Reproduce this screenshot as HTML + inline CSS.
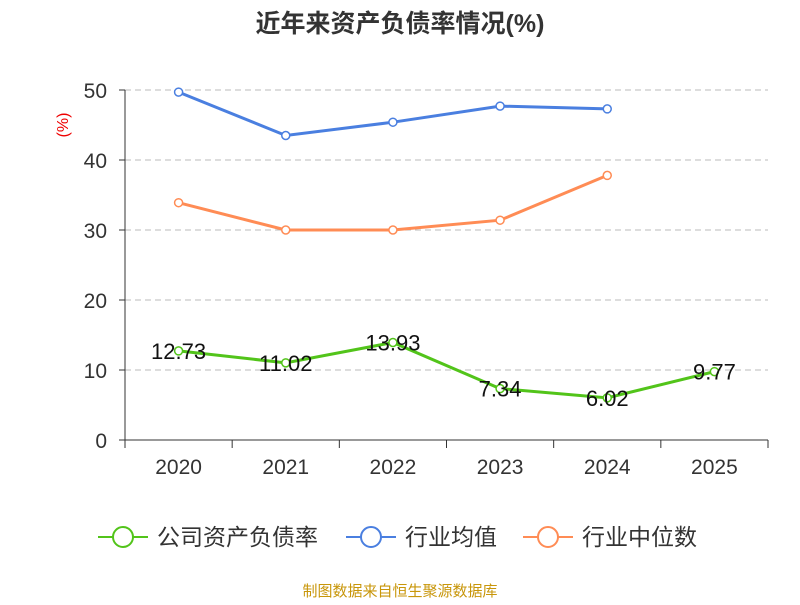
<!DOCTYPE html>
<html><head><meta charset="utf-8">
<style>
body{margin:0;background:#fff;}
svg text{font-family:"Liberation Sans","Noto Sans CJK SC",sans-serif;}
</style></head>
<body>
<svg id="chart" width="800" height="600" xmlns="http://www.w3.org/2000/svg">
<text x="400" y="32" text-anchor="middle" font-size="25" font-weight="bold" fill="#333">近年来资产负债率情况(%)</text>
<text transform="translate(68,125) rotate(-90)" text-anchor="middle" font-size="16" fill="#e00">(%)</text>
<g id="grid"></g><g id="axes"></g><g id="series"></g>
<g>
<g><line x1="98" y1="537" x2="148" y2="537" stroke="#52c41a" stroke-width="2"/><circle cx="123" cy="537" r="10" fill="#fff" stroke="#52c41a" stroke-width="2"/><text x="157" y="545" font-size="23" fill="#333">公司资产负债率</text></g>
<g><line x1="346" y1="537" x2="396" y2="537" stroke="#4a7fe0" stroke-width="2"/><circle cx="371" cy="537" r="10" fill="#fff" stroke="#4a7fe0" stroke-width="2"/><text x="405" y="545" font-size="23" fill="#333">行业均值</text></g>
<g><line x1="523" y1="537" x2="573" y2="537" stroke="#ff8c55" stroke-width="2"/><circle cx="548" cy="537" r="10" fill="#fff" stroke="#ff8c55" stroke-width="2"/><text x="582" y="545" font-size="23" fill="#333">行业中位数</text></g>
</g>
<text x="400" y="596" text-anchor="middle" font-size="15" fill="#c8960a">制图数据来自恒生聚源数据库</text>
</svg>
<script>
const categories=["2020","2021","2022","2023","2024","2025"];
const companyVals=[12.73,11.02,13.93,7.34,6.02,9.77];
const avgVals=[49.7,43.5,45.4,47.7,47.3];
const medianVals=[33.9,30.0,30.0,31.4,37.8];
const yTicks=[0,10,20,30,40,50];
const NS="http://www.w3.org/2000/svg";
const x0=125,x1=768,yBase=440,yTop=90,yMax=50;
const bw=(x1-x0)/categories.length;
const xs=i=>x0+bw*(i+0.5);
const ys=v=>yBase-(v/yMax)*(yBase-yTop);
function mk(tag,attrs,parent){const e=document.createElementNS(NS,tag);for(const k in attrs)e.setAttribute(k,attrs[k]);parent.appendChild(e);return e;}
const grid=document.getElementById('grid'),axes=document.getElementById('axes'),ser=document.getElementById('series');
yTicks.forEach(t=>{
 if(t>0){const g=mk('line',{x1:x0,x2:x1,y1:ys(t),y2:ys(t),stroke:'#bbb','stroke-dasharray':'6,4'},grid);
 
 }
 mk('line',{x1:x0-6,x2:x0,y1:ys(t),y2:ys(t),stroke:'#333'},axes);
 const tx=mk('text',{x:x0-18,y:ys(t)+8,'text-anchor':'end','font-size':21,fill:'#333'},axes);tx.textContent=t;
 
 
});
mk('line',{x1:x0,x2:x0,y1:yTop,y2:yBase,stroke:'#333'},axes);
mk('line',{x1:x0,x2:x1,y1:yBase,y2:yBase,stroke:'#333'},axes);
for(let i=0;i<=categories.length;i++)mk('line',{x1:x0+bw*i,x2:x0+bw*i,y1:yBase,y2:yBase+8,stroke:'#333'},axes);
categories.forEach((c,i)=>{const t=mk('text',{x:xs(i),y:yBase+34,'text-anchor':'middle','font-size':21,fill:'#333'},axes);t.textContent=c;
 
 });
function series(vals,color,name,labels){
 const g=mk('g',{},ser);
 
 
 mk('polyline',{points:vals.map((v,i)=>xs(i)+','+ys(v)).join(' '),fill:'none',stroke:color,'stroke-width':3},g);
 vals.forEach((v,i)=>{const c=mk('circle',{cx:xs(i),cy:ys(v),r:4,fill:'#fff',stroke:color,'stroke-width':1.5},g);
  
  
  if(labels){const t=mk('text',{x:xs(i),y:ys(v)+8,'text-anchor':'middle','font-size':22,fill:'#111'},g);t.textContent=v.toFixed(2);
   
   }
 });
}
series(avgVals,'#4a7fe0','industry-avg-line',false);
series(medianVals,'#ff8c55','industry-median-line',false);
series(companyVals,'#52c41a','company-line',true);
</script>
</body></html>
